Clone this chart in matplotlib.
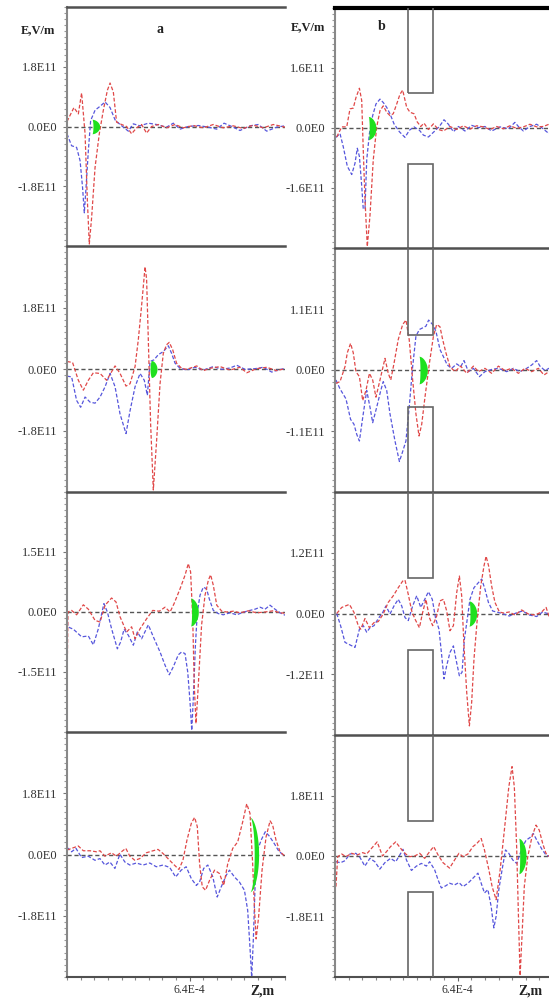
import numpy as np
import matplotlib.pyplot as plt
from matplotlib.patches import Rectangle

# z in units of 1E-4 m, E in units of 1E11 V/m ; (z, E) pairs
a1_red = [(0, 0.15), (0.36, 0.57), (0.59, 0.38), (0.76, 1.01), (0.94, -0.22), (1.06, -2.24), (1.16, -3.54),
          (1.28, -2.75), (1.46, -1.23), (1.68, -0.22), (1.89, 0.49), (2.10, 1.09), (2.24, 1.31), (2.41, 1.04),
          (2.58, 0.13), (2.84, 0.06), (3.10, 0), (3.36, -0.22), (3.62, -0.04), (3.88, 0.06), (4.14, -0.20),
          (4.40, 0), (4.75, 0.06), (5.18, -0.04), (5.62, 0.06), (6.05, -0.04), (6.57, 0.03), (7.09, -0.04),
          (7.61, 0.06), (8.13, -0.04), (8.65, 0.02), (9.17, -0.06), (9.69, 0.04), (10.21, -0.04), (10.73, 0.06),
          (11.34, -0.02)]
a1_blue = [(0, -0.22), (0.24, -0.58), (0.50, -0.63), (0.68, -1.03), (0.81, -1.84), (0.90, -2.60), (0.99, -1.84),
           (1.11, -0.73), (1.23, 0.18), (1.46, 0.49), (1.72, 0.61), (1.98, 0.74), (2.24, 0.57), (2.50, 0.20),
           (2.76, 0.06), (3.19, -0.14), (3.45, 0.08), (3.80, 0.02), (4.23, 0.10), (4.66, 0.06), (5.18, -0.02),
           (5.53, 0.10), (5.88, -0.08), (6.31, 0), (6.83, 0.03), (7.35, -0.02), (7.79, -0.08), (8.17, 0.10),
           (8.57, 0), (9.00, -0.12), (9.52, 0.02), (9.95, 0.06), (10.39, -0.14), (10.91, -0.02), (11.34, 0.02)]

a2_red = [(0, 0.22), (0.29, 0.19), (0.59, -0.33), (0.85, -0.62), (1.11, -0.33), (1.37, -0.11), (1.72, -0.13),
          (2.06, -0.33), (2.32, -0.08), (2.50, 0.09), (2.76, -0.13), (3.07, -0.50), (3.28, -0.43), (3.54, 0.07),
          (3.71, 0.86), (3.88, 1.85), (4.06, 2.99), (4.14, 2.64), (4.23, 0.86), (4.35, -1.61), (4.49, -3.54),
          (4.66, -2.11), (4.84, -0.43), (5.01, 0.46), (5.18, 0.71), (5.32, 0.78), (5.50, 0.56), (5.70, 0.17),
          (5.96, 0.02), (6.22, -0.01), (6.75, 0.09), (7.09, -0.05), (7.44, 0.02), (7.96, 0.07), (8.48, -0.03),
          (9.00, 0.05), (9.35, -0.11), (9.87, 0.01), (10.39, 0.05), (10.91, -0.05), (11.34, 0.01)]
a2_blue = [(0, -0.21), (0.24, -0.23), (0.50, -0.92), (0.71, -1.12), (0.94, -0.82), (1.20, -0.97), (1.46, -1.0),
           (1.72, -0.82), (1.98, -0.52), (2.24, -0.13), (2.50, -0.52), (2.76, -1.32), (3.07, -1.89), (3.28, -1.22),
           (3.54, -0.52), (3.80, -0.13), (4.02, -0.33), (4.18, -0.77), (4.32, 0.22), (4.53, 0.27), (4.75, 0.42),
           (5.01, 0.51), (5.27, 0.68), (5.44, 0.46), (5.62, 0.17), (5.88, 0.02), (6.22, -0.03), (6.66, 0.05),
           (7.09, -0.03), (7.61, 0.07), (8.05, -0.01), (8.48, 0.03), (8.83, 0.11), (9.26, -0.01), (9.78, 0.01),
           (10.21, 0.05), (10.65, -0.09), (11.08, -0.01), (11.34, 0.01)]

a3_red = [(0, -1.92), (0.05, 0), (0.24, 0.04), (0.50, -0.07), (0.85, 0.18), (1.11, 0.07), (1.46, -0.21),
          (1.72, -0.25), (1.98, 0.17), (2.32, 0.35), (2.55, 0.25), (2.76, -0.12), (3.10, -0.50), (3.36, -0.37),
          (3.54, -0.67), (3.80, -0.42), (4.14, -0.17), (4.46, 0.04), (4.80, 0.02), (5.10, 0.12), (5.36, 0),
          (5.57, 0.21), (5.88, 0.58), (6.14, 0.92), (6.31, 1.21), (6.43, 1.0), (6.54, -0.17), (6.62, -1.83),
          (6.71, -2.79), (6.83, -1.83), (7.00, -0.33), (7.18, 0.42), (7.35, 0.79), (7.47, 0.93), (7.61, 0.67),
          (7.79, 0.17), (8.05, 0.02), (8.31, 0), (8.65, 0.02), (9.00, -0.02), (9.43, 0.03), (9.87, -0.02),
          (10.30, 0), (10.73, 0.03), (11.08, -0.02), (11.34, -0.03)]
a3_blue = [(0, 0.46), (0.03, -0.37), (0.33, -0.43), (0.76, -0.62), (1.11, -0.60), (1.37, -0.82), (1.63, -0.42),
           (1.92, 0.21), (2.10, 0), (2.32, -0.42), (2.62, -0.92), (2.79, -0.75), (2.97, -0.43), (3.19, -0.58),
           (3.45, -0.83), (3.66, -0.50), (3.88, -0.67), (4.23, -0.32), (4.49, -0.62), (4.84, -1.0), (5.10, -1.33),
           (5.32, -1.57), (5.53, -1.37), (5.79, -1.07), (5.96, -1.0), (6.14, -1.04), (6.28, -1.50), (6.40, -2.25),
           (6.49, -2.96), (6.57, -2.17), (6.68, -0.83), (6.78, 0), (6.92, 0.42), (7.09, 0.62), (7.26, 0.58),
           (7.40, 0.33), (7.61, 0.04), (7.87, -0.04), (8.13, -0.07), (8.48, -0.02), (8.83, -0.07), (9.09, -0.02),
           (9.43, 0.03), (9.78, 0.07), (10.04, 0.12), (10.30, 0.07), (10.56, 0.17), (10.82, 0.07), (11.08, -0.02),
           (11.34, -0.08)]

a4_red = [(0, 0.13), (0.24, 0.18), (0.59, 0.25), (0.85, 0.11), (1.20, 0.11), (1.54, 0.08), (1.72, 0.11),
          (1.98, -0.05), (2.32, 0.05), (2.58, -0.05), (2.84, 0.08), (3.07, 0.18), (3.28, -0.05), (3.54, -0.17),
          (3.80, -0.12), (4.14, 0.05), (4.49, 0.11), (4.75, 0.15), (5.01, 0.03), (5.27, -0.12), (5.53, -0.27),
          (5.84, -0.44), (6.05, -0.17), (6.26, 0.42), (6.49, 0.92), (6.66, 1.09), (6.80, 0.82), (6.92, -0.27),
          (7.06, -0.95), (7.23, -1.05), (7.44, -0.76), (7.70, -0.46), (7.96, -0.56), (8.18, -0.91), (8.39, -0.27),
          (8.65, 0.18), (8.91, 0.37), (9.17, 0.96), (9.38, 1.49), (9.55, 1.21), (9.69, -0.27), (9.78, -1.54),
          (9.87, -2.48), (10.0, -1.84), (10.18, -0.46), (10.39, 0.52), (10.60, 0.99), (10.73, 0.87),
          (10.91, 0.42), (11.12, 0.08), (11.34, -0.03)]
a4_blue = [(0, 0.21), (0.24, 0.08), (0.47, 0.18), (0.76, -0.09), (1.11, -0.05), (1.46, -0.17), (1.72, -0.12),
           (1.98, -0.31), (2.24, -0.22), (2.50, -0.41), (2.76, 0.01), (3.02, -0.22), (3.28, -0.31), (3.62, -0.25),
           (3.97, -0.31), (4.32, -0.25), (4.66, -0.36), (5.01, -0.31), (5.36, -0.38), (5.67, -0.66), (5.96, -0.46),
           (6.22, -0.36), (6.49, -0.71), (6.75, -0.91), (6.92, -0.81), (7.13, -0.41), (7.35, -0.31), (7.61, -0.66),
           (7.84, -1.25), (8.05, -0.95), (8.31, -0.61), (8.48, -0.46), (8.74, -0.66), (9.00, -0.81), (9.26, -1.05),
           (9.43, -1.64), (9.55, -2.73), (9.64, -3.61), (9.73, -2.43), (9.83, -0.66), (9.95, 0.13), (10.13, 0.42),
           (10.35, 0.67), (10.56, 0.54), (10.82, 0.32), (11.04, 0.11), (11.34, -0.05)]

b1_red = [(0.09, -0.24), (0.35, 0.03), (0.61, 0.03), (0.78, 0.51), (0.95, 0.53), (1.09, 0.81), (1.27, 1.06),
          (1.39, 0.73), (1.47, -0.59), (1.56, -1.90), (1.68, -3.16), (1.82, -2.33), (1.99, -0.85), (2.17, 0.03),
          (2.34, 0.46), (2.51, 0.59), (2.69, 0.42), (2.86, 0.33), (3.03, 0.38), (3.21, 0.64), (3.38, 0.90),
          (3.52, 1.01), (3.73, 0.55), (3.90, 0.42), (4.11, 0.38), (4.28, 0.16), (4.46, 0.04), (4.63, 0.13),
          (4.86, -0.04), (5.12, 0.11), (5.38, -0.04), (5.64, -0.08), (5.98, 0.04), (6.33, -0.04), (6.68, 0.06),
          (7.02, -0.03), (7.37, 0.06), (7.72, 0.03), (8.06, -0.04), (8.41, 0.04), (8.76, -0.02), (9.10, 0.06),
          (9.45, -0.01), (9.80, 0.03), (10.14, 0.10), (10.49, 0.03), (10.84, 0.04), (11.13, 0.10), (11.34, 0.02)]
b1_blue = [(0.05, -0.25), (0.26, -0.15), (0.43, -0.50), (0.64, -1.02), (0.87, -1.24), (1.04, -0.94), (1.16, -0.54),
           (1.27, -0.76), (1.39, -1.55), (1.47, -2.16), (1.56, -2.16), (1.65, -0.85), (1.79, -0.15), (1.96, 0.33),
           (2.13, 0.64), (2.34, 0.77), (2.51, 0.68), (2.69, 0.55), (2.86, 0.38), (3.07, 0.11), (3.35, -0.10),
           (3.64, -0.25), (3.87, -0.06), (4.11, 0.03), (4.39, -0.06), (4.60, -0.19), (4.86, -0.24), (5.15, -0.10),
           (5.43, 0.04), (5.67, 0.22), (5.90, 0.10), (6.16, -0.10), (6.42, 0.04), (6.76, -0.08), (7.11, 0.07),
           (7.46, 0.01), (7.80, 0.04), (8.15, -0.08), (8.58, 0.03), (9.02, -0.02), (9.36, 0.15), (9.54, 0.04),
           (9.80, -0.08), (10.14, 0.04), (10.49, 0.10), (10.75, 0.01), (11.13, -0.15), (11.34, -0.05)]

b2_red = [(0.05, -0.24), (0.26, -0.21), (0.52, 0.06), (0.64, 0.31), (0.81, 0.48), (0.95, 0.31), (1.09, -0.03),
          (1.27, -0.12), (1.44, -0.55), (1.61, -0.37), (1.79, -0.06), (1.96, -0.18), (2.13, -0.49), (2.34, -0.18),
          (2.60, 0.21), (2.77, -0.06), (2.90, -0.18), (3.07, 0.12), (3.29, 0.55), (3.52, 0.82), (3.69, 0.90),
          (3.86, 0.55), (4.04, -0.18), (4.21, -0.79), (4.37, -1.19), (4.51, -0.98), (4.68, -0.49), (4.91, 0.12),
          (5.12, 0.61), (5.29, 0.82), (5.46, 0.78), (5.60, 0.55), (5.77, 0.31), (5.98, 0.06), (6.24, -0.03),
          (6.54, 0.07), (6.85, -0.06), (7.20, 0.07), (7.46, -0.03), (7.80, 0.03), (8.15, -0.06), (8.50, 0.07),
          (8.84, -0.01), (9.19, 0.03), (9.54, -0.06), (9.88, 0.03), (10.23, -0.03), (10.58, 0.03), (10.87, -0.09),
          (11.13, -0.03), (11.34, 0.02)]
b2_blue = [(0.05, -0.18), (0.26, -0.34), (0.57, -0.52), (0.81, -0.89), (0.99, -0.98), (1.13, -1.16), (1.27, -1.28),
           (1.44, -0.86), (1.65, -0.37), (1.82, -0.67), (1.96, -0.95), (2.17, -0.67), (2.38, -0.37), (2.51, -0.21),
           (2.69, -0.37), (2.86, -0.79), (3.12, -1.28), (3.35, -1.65), (3.52, -1.47), (3.69, -1.28), (3.86, -0.67),
           (4.04, 0.06), (4.21, 0.61), (4.39, 0.73), (4.56, 0.76), (4.73, 0.79), (4.87, 0.90), (5.08, 0.82),
           (5.25, 0.70), (5.46, 0.37), (5.64, 0.24), (5.84, 0.09), (6.07, 0.03), (6.33, 0.11), (6.54, 0.06),
           (6.71, 0.17), (6.94, -0.03), (7.20, 0.03), (7.51, -0.12), (7.80, -0.03), (8.15, 0.01), (8.50, 0.03),
           (8.93, -0.03), (9.28, 0.03), (9.62, -0.03), (9.97, 0.03), (10.23, 0.09), (10.49, 0.17), (10.66, 0.07),
           (10.92, -0.01), (11.13, 0.03), (11.34, 0.0)]

b3_red = [(0.09, 0), (0.35, 0.12), (0.75, 0.18), (0.99, 0.02), (1.21, -0.24), (1.34, -0.31), (1.56, -0.10),
          (1.79, -0.28), (2.03, -0.18), (2.25, -0.16), (2.51, -0.01), (2.77, 0.22), (3.03, 0.35), (3.29, 0.51),
          (3.52, 0.64), (3.64, 0.66), (3.81, 0.38), (3.99, 0.05), (4.16, -0.11), (4.39, -0.28), (4.56, 0.02),
          (4.73, 0.28), (4.91, -0.08), (5.08, -0.24), (5.29, -0.05), (5.46, 0.25), (5.64, 0.28), (5.81, 0.05),
          (5.98, -0.34), (6.16, -0.24), (6.33, 0.41), (6.47, 0.74), (6.59, 0.35), (6.71, -0.64), (6.85, -1.55),
          (6.99, -2.22), (7.11, -1.75), (7.23, -0.90), (7.40, -0.11), (7.58, 0.54), (7.75, 0.94), (7.86, 1.13),
          (7.99, 0.94), (8.15, 0.54), (8.32, 0.22), (8.55, 0.03), (8.76, 0.01), (9.07, 0.03), (9.36, -0.03),
          (9.71, 0.07), (10.06, -0.01), (10.40, -0.03), (10.75, 0.03), (10.98, 0.12), (11.13, -0.05), (11.34, 0.0)]
b3_blue = [(0.09, 0), (0.29, -0.24), (0.52, -0.57), (0.78, -0.62), (1.04, -0.67), (1.27, -0.31), (1.47, -0.24),
           (1.65, -0.37), (1.82, -0.28), (2.03, -0.24), (2.25, -0.10), (2.48, 0.02), (2.65, 0.15), (2.86, -0.01),
           (3.07, 0.15), (3.29, 0.28), (3.47, 0.15), (3.64, -0.08), (3.81, -0.14), (4.04, 0.15), (4.25, 0.35),
           (4.46, 0.12), (4.63, 0.25), (4.86, 0.43), (5.06, 0.28), (5.24, -0.11), (5.41, -0.31), (5.55, -0.83),
           (5.67, -1.29), (5.81, -1.03), (5.98, -0.77), (6.16, -0.64), (6.29, -0.90), (6.47, -1.23), (6.61, -1.16),
           (6.73, -0.51), (6.88, -0.11), (7.02, 0.28), (7.23, 0.51), (7.46, 0.61), (7.63, 0.68), (7.80, 0.48),
           (7.98, 0.22), (8.20, 0.05), (8.50, 0.02), (8.76, -0.01), (9.07, -0.05), (9.42, 0.01), (9.76, 0.05),
           (10.11, -0.03), (10.49, -0.06), (10.80, 0.03), (11.13, -0.01), (11.34, 0.01)]

b4_red = [(0.05, -0.91), (0.14, -0.02), (0.35, 0.06), (0.57, -0.02), (0.87, 0.08), (1.16, 0.03), (1.44, 0.10),
          (1.65, 0.06), (1.91, 0.23), (2.20, 0.42), (2.48, 0), (2.69, 0.13), (2.90, 0.28), (3.17, 0.42),
          (3.42, 0.23), (3.69, 0.06), (3.90, -0.02), (4.16, 0), (4.42, 0.08), (4.68, -0.07), (4.94, 0.13),
          (5.15, 0.28), (5.38, 0.03), (5.64, -0.20), (5.98, -0.36), (6.24, -0.12), (6.47, 0.08), (6.68, -0.02),
          (6.94, 0.06), (7.20, 0.28), (7.40, 0.37), (7.63, 0.52), (7.80, 0.18), (8.03, -0.41), (8.20, -0.91),
          (8.41, -1.30), (8.62, -0.41), (8.84, 0.77), (9.07, 2.05), (9.24, 2.66), (9.36, 2.05), (9.48, 0.28),
          (9.57, -1.69), (9.66, -3.56), (9.76, -2.38), (9.88, -0.91), (10.06, -0.02), (10.28, 0.57),
          (10.49, 0.92), (10.66, 0.77), (10.84, 0.37), (11.01, 0.08), (11.13, 0), (11.34, 0.02)]
b4_blue = [(0.05, -0.17), (0.29, -0.20), (0.52, -0.14), (0.78, 0.06), (1.09, 0.08), (1.30, -0.04), (1.56, -0.30),
           (1.82, -0.07), (2.08, -0.17), (2.34, -0.39), (2.60, -0.20), (2.90, -0.07), (3.17, -0.17), (3.35, 0),
           (3.55, 0.20), (3.73, -0.12), (3.99, -0.43), (4.25, -0.30), (4.51, -0.22), (4.77, -0.30), (4.94, -0.17),
           (5.20, -0.41), (5.38, -0.71), (5.55, -0.95), (5.77, -0.89), (5.98, -0.81), (6.24, -0.86), (6.47, -0.79),
           (6.68, -0.91), (6.94, -0.81), (7.20, -0.66), (7.46, -0.51), (7.63, -0.81), (7.80, -1.10), (7.98, -1.00),
           (8.15, -1.50), (8.29, -2.14), (8.41, -1.79), (8.55, -1.00), (8.72, -0.41), (8.90, 0.18), (9.07, 0.08),
           (9.28, -0.12), (9.48, -0.22), (9.62, 0), (9.76, 0.23), (9.97, 0.47), (10.18, 0.55), (10.35, 0.67),
           (10.58, 0.42), (10.80, 0.20), (11.01, 0.03), (11.13, 0), (11.34, 0.0)]

# y tick value (1E11 V/m) per panel, column a then column b
ticks_a = [1.8, 1.8, 1.5, 1.8]
ticks_b = [1.6, 1.1, 1.2, 1.8]

# green bunch marks: z start, left bulge, right bulge, half height
green_a = [(1.30, 0.05, 0.40, 0.22), (4.40, -0.08, 0.28, 0.25), (6.43, 0.05, 0.40, 0.35), (9.55, 0.22, 0.45, 1.10)]
green_b = [(1.73, 0.05, 0.40, 0.31), (4.37, 0.05, 0.43, 0.25), (6.97, 0.05, 0.40, 0.25), (9.59, 0.05, 0.38, 0.53)]

# electrode (aperture) in column b: z range, and gap edges as fraction of panel height
electrode_z = (3.80, 5.10)
electrode_gap = (0.35, 0.645)

z_max = 11.34
z_label_tick = 6.4

W, H = 549, 998
RED = '#e04848'
BLUE = '#5656dc'
SERIF = 'Liberation Serif'

fig = plt.figure(figsize=(W / 100, H / 100), dpi=100)
fig.patch.set_facecolor('white')

rows_a = [(7, 246), (246, 492), (492, 732), (732, 977)]
rows_b = [(8, 248), (248, 492), (492, 735), (735, 977)]


def make_ax(x_left, top, bottom):
    return fig.add_axes([x_left / W, 1 - bottom / H, 218 / W, (bottom - top) / H])


def draw_panel(ax, red, blue, tick, green, last, electrode=False):
    ax.set_xlim(0, z_max)
    ax.set_ylim(-2 * tick, 2 * tick)
    ax.axhline(0, color='#555555', lw=1.0, ls=(0, (3, 2)), zorder=1)

    z, e = np.array(blue).T
    ax.plot(z, e, color=BLUE, lw=0.9, ls=(0, (3, 1.6)), zorder=2)
    z, e = np.array(red).T
    ax.plot(z, e, color=RED, lw=0.9, ls=(0, (3, 1.6)), zorder=2)

    # green bunch (crescent)
    x0, wl, wr, h = green
    t = np.linspace(-1, 1, 61)
    prof = (1 - t ** 2) ** 0.6
    ax.fill_betweenx(t * h, x0 + wl * prof, x0 + wr * prof, color='#1ee01e', lw=0, zorder=3)

    if electrode:
        tr = ax.get_xaxis_transform()
        zw = electrode_z[1] - electrode_z[0]
        ax.add_patch(Rectangle((electrode_z[0], electrode_gap[1]), zw, 0.5, transform=tr,
                               fill=False, ec='#666666', lw=1.2, zorder=4))
        ax.add_patch(Rectangle((electrode_z[0], electrode_gap[0] - 0.5), zw, 0.5, transform=tr,
                               fill=False, ec='#666666', lw=1.2, zorder=4))

    ax.spines['right'].set_visible(False)
    ax.spines['left'].set_color('#888888')
    ax.spines['left'].set_linewidth(1.5)
    ax.spines['top'].set_color('#505050')
    ax.spines['top'].set_linewidth(1.8)
    ax.spines['bottom'].set_visible(last)
    ax.spines['bottom'].set_color('#505050')
    ax.spines['bottom'].set_linewidth(1.5)

    ax.set_yticks([-tick, 0, tick])
    ax.set_yticklabels([f'-{tick}E11', '0.0E0', f'{tick}E11'], family=SERIF)
    ax.set_yticks(np.arange(-20, 21) * tick / 10, minor=True)
    ax.tick_params(axis='y', which='major', direction='out', length=3, width=0.8, color='#777777',
                   labelsize=9, labelcolor='#333333', pad=4)
    ax.tick_params(axis='y', which='minor', direction='out', length=2, width=0.8, color='#999999')

    if last:
        ax.set_xticks([z_label_tick])
        ax.set_xticklabels(['6.4E-4'], family=SERIF)
        ax.set_xticks(np.arange(0, 17) * z_label_tick / 9, minor=True)
        ax.tick_params(axis='x', which='major', direction='out', length=3, width=0.8, color='#666666',
                       labelsize=8.5, labelcolor='#333333', pad=2)
        ax.tick_params(axis='x', which='minor', direction='out', length=2, width=0.8, color='#888888')
        ax.text(0.895, -0.058, 'Z,m', transform=ax.transAxes, ha='center', va='center',
                family=SERIF, fontsize=10, fontweight='bold', color='#222222')
    else:
        ax.set_xticks([])


reds_a = [a1_red, a2_red, a3_red, a4_red]
blues_a = [a1_blue, a2_blue, a3_blue, a4_blue]
reds_b = [b1_red, b2_red, b3_red, b4_red]
blues_b = [b1_blue, b2_blue, b3_blue, b4_blue]

axes_a = []
axes_b = []
for i in range(4):
    ax = make_ax(67, *rows_a[i])
    draw_panel(ax, reds_a[i], blues_a[i], ticks_a[i], green_a[i], i == 3)
    axes_a.append(ax)
    ax = make_ax(335, *rows_b[i])
    draw_panel(ax, reds_b[i], blues_b[i], ticks_b[i], green_b[i], i == 3, electrode=True)
    axes_b.append(ax)

axes_b[0].spines['top'].set_color('black')
axes_b[0].spines['top'].set_linewidth(3)

axes_a[0].text(-0.135, 0.905, 'E,V/m', transform=axes_a[0].transAxes, ha='center', va='center',
               family=SERIF, fontsize=9, fontweight='bold', color='#222222')
axes_a[0].text(0.427, 0.905, 'a', transform=axes_a[0].transAxes, ha='center', va='center',
               family=SERIF, fontsize=10, fontweight='bold', color='#222222')
axes_b[0].text(-0.124, 0.92, 'E,V/m', transform=axes_b[0].transAxes, ha='center', va='center',
               family=SERIF, fontsize=9, fontweight='bold', color='#222222')
axes_b[0].text(0.216, 0.925, 'b', transform=axes_b[0].transAxes, ha='center', va='center',
               family=SERIF, fontsize=10, fontweight='bold', color='#222222')

fig.savefig('out.png', dpi=100)
